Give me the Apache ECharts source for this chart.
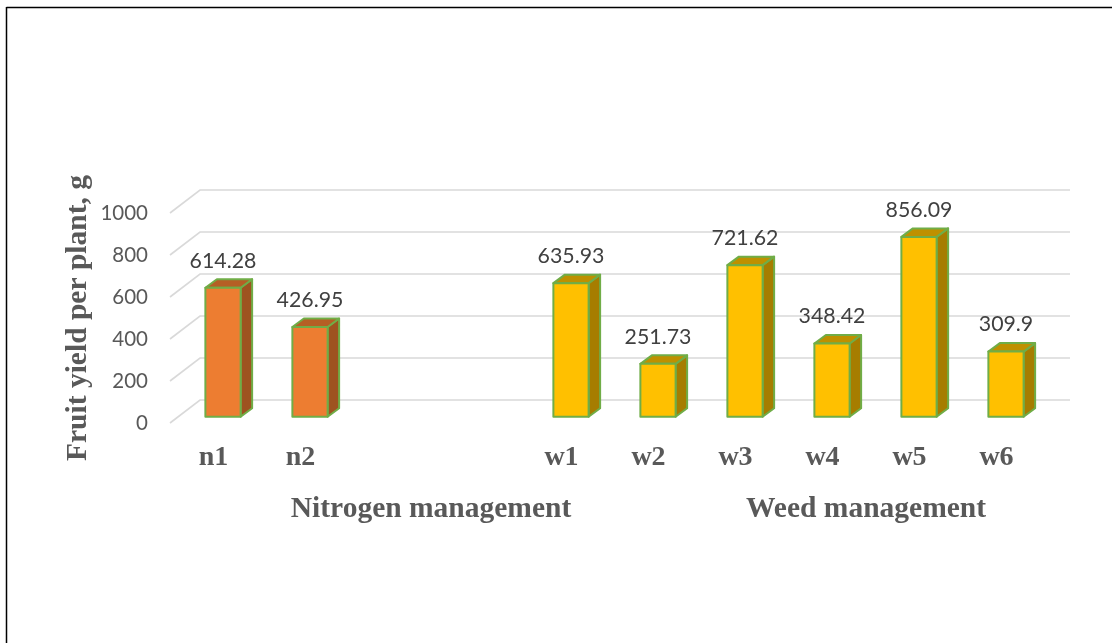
<!DOCTYPE html>
<html>
<head>
<meta charset="utf-8">
<style>html,body{margin:0;padding:0;background:#fff}#c{width:1112px;height:643px}</style>
<script src="https://cdn.jsdelivr.net/npm/echarts@6/dist/echarts.min.js"></script>
</head>
<body>
<div id="c"></div>
<script>
var categories = ['n1','n2','','','w1','w2','w3','w4','w5','w6'];
var yields = [614.28,426.95,null,null,635.93,251.73,721.62,348.42,856.09,309.9];
var groupOf = ['n','n','','','w','w','w','w','w','w'];
var yTicks = [0,200,400,600,800,1000];
var groupTitles = ['Nitrogen management','Weed management'];
var yTitle = 'Fruit yield per plant, g';

var palette = {
  n:{front:'#ED7D31',side:'#9E5320',top:'#B55F25'},
  w:{front:'#FFC000',side:'#A67D00',top:'#BF9000'}
};
var SERIF = '"Liberation Serif","Times New Roman",serif';
var SANS = 'Lato,"Open Sans",sans-serif';
var GREY = '#595959';

var chart = echarts.init(document.getElementById('c'));

function wallItem(params, api){
  var val = api.value(0);
  var cs = params.coordSys;
  var y = api.coord([0,val])[1];
  var x0 = cs.x, dx = 30, dy = 23;
  return {type:'polyline',shape:{points:[[x0,y],[x0+dx,y-dy],[x0+dx+cs.width,y-dy]]},
    style:{fill:null,stroke:'#D9D9D9',lineWidth:1.6},silent:true};
}
function barItem(params, api){
  var i = api.value(0), v = api.value(1);
  if (v == null || isNaN(v)) return;
  var c = palette[groupOf[i]];
  var top = api.coord([i,v]), base = api.coord([i,0]);
  var w = api.size([1,0])[0]*0.405;
  var sx = 9.5, sy = -6.3, ox = 11.5, oy = -8.5;
  var l = top[0]+sx-w/2, r = l+w, t = top[1]+sy, b = base[1]+sy;
  var line = {stroke:'#70AD47',lineWidth:2,lineJoin:'round'};
  return {type:'group',children:[
    {type:'polygon',shape:{points:[[r,t],[r+ox,t+oy],[r+ox,b+oy],[r,b]]},style:Object.assign({fill:c.side},line)},
    {type:'polygon',shape:{points:[[l,t],[l+ox,t+oy],[r+ox,t+oy],[r,t]]},style:Object.assign({fill:c.top},line)},
    {type:'rect',shape:{x:l,y:t,width:w,height:b-t},style:Object.assign({fill:c.front},line)},
    {type:'text',style:{text:String(v),x:l+w/2,y:t-27,align:'center',verticalAlign:'middle',
      fill:'#404040',font:'21.3px '+SANS}}
  ]};
}

chart.setOption({
  animation:false,
  backgroundColor:'#fff',
  grid:{left:170,top:213,width:870,height:210,containLabel:false},
  xAxis:{type:'category',data:categories,axisLine:{show:false},axisTick:{show:false},
    axisLabel:{margin:21,color:GREY,fontFamily:SERIF,fontWeight:'bold',fontSize:28,interval:0}},
  yAxis:{type:'value',min:0,max:1000,interval:200,splitLine:{show:false},axisLine:{show:false},axisTick:{show:false},
    axisLabel:{margin:22,color:GREY,fontFamily:SANS,fontSize:20.5,padding:[3,0,0,0],
      formatter:function(v){return String(v);}}},
  series:[
    {type:'custom',coordinateSystem:'cartesian2d',renderItem:wallItem,silent:true,z:1,
     encode:{x:-1,y:0},data:yTicks.map(function(v){return [v];})},
    {type:'custom',coordinateSystem:'cartesian2d',renderItem:barItem,z:2,clip:false,
     encode:{x:0,y:1},data:yields.map(function(v,i){return [i,v];})}
  ],
  graphic:[
    {type:'line',shape:{x1:6.5,y1:7.5,x2:1112,y2:7.5},style:{stroke:'#000',lineWidth:1.5}},
    {type:'line',shape:{x1:6.5,y1:7,x2:6.5,y2:643},style:{stroke:'#000',lineWidth:1.5}},
    {type:'text',x:78,y:318,rotation:Math.PI/2,style:{text:yTitle,align:'center',verticalAlign:'middle',
      fill:GREY,font:'bold 29.5px '+SERIF}},
    {type:'text',x:431,y:509,style:{text:groupTitles[0],align:'center',verticalAlign:'middle',
      fill:GREY,font:'bold 29.5px '+SERIF}},
    {type:'text',x:866,y:509,style:{text:groupTitles[1],align:'center',verticalAlign:'middle',
      fill:GREY,font:'bold 29.5px '+SERIF}}
  ]
});
</script>
</body>
</html>
